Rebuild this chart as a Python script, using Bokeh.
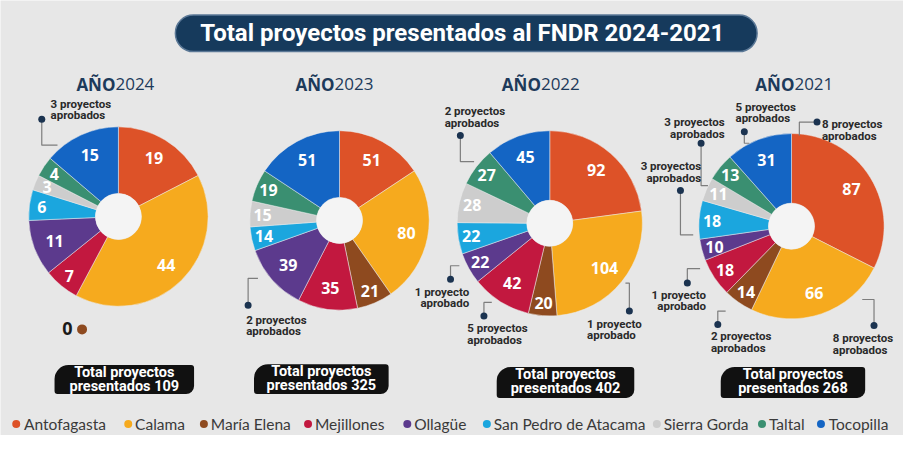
import numpy as np
from bokeh.plotting import figure
from bokeh.models import Range1d
from bokeh.embed import file_html
from bokeh.resources import INLINE
from bokeh.core.properties import value

# ------------------------------------------------------------------ data
municipios = ["Antofagasta", "Calama", "María Elena", "Mejillones", "Ollagüe",
              "San Pedro de Atacama", "Sierra Gorda", "Taltal", "Tocopilla"]
colores = ["#DD5228", "#F6AA1E", "#8E4A1F", "#C2183F", "#5C3A8D",
           "#1BA6DE", "#CDCDCD", "#3A8F71", "#1465C4"]
anios = ["2024", "2023", "2022", "2021"]
valores_2024 = [19, 44, 0, 7, 11, 6, 3, 4, 15]
valores_2023 = [51, 80, 21, 35, 39, 14, 15, 19, 51]
valores_2022 = [92, 104, 20, 42, 22, 22, 28, 27, 45]
valores_2021 = [87, 66, 14, 18, 10, 18, 11, 13, 31]
totales = [109, 325, 402, 268]
aprobados_2024 = [("Tocopilla", 3)]
aprobados_2023 = [("Ollagüe", 2)]
aprobados_2022 = [("Taltal", 2), ("Ollagüe", 1), ("Mejillones", 5), ("Calama", 1)]
aprobados_2021 = [("Tocopilla", 5), ("Antofagasta", 8), ("Sierra Gorda", 3),
                  ("San Pedro de Atacama", 3), ("Ollagüe", 1), ("María Elena", 2),
                  ("Calama", 8)]
titulo = "Total proyectos  presentados al  FNDR 2024-2021"

valores = [valores_2024, valores_2023, valores_2022, valores_2021]
aprobados = [aprobados_2024, aprobados_2023, aprobados_2022, aprobados_2021]

# ------------------------------------------------------------------ layout (reference pixels)
W, H = 903, 435
SX, SY = W / 919, H / 451
BG = "#E7E7E7"
NAVY = "#163A5C"
COND = value("Roboto")
SANS = value("Open Sans")
LEG = value("Lato")


def X(px):
    return px * SX


def Y(py):
    return H - py * SY


centros = [(120, 224), (345, 228), (559, 231), (805, 234)]
radios = [92, 92, 95, 95]
hueco = 23
split_anio = [117, 340, 550, 808]
cajas = [(55, 197, 378, 408), (258, 395, 377, 408), (505, 645, 380, 412), (733, 880, 380, 412)]
cero_pos = (68, 340)

# annotation layout: (text x, first line y, align, dot, connector path)
anot = {
    ("2024", "Tocopilla"): (51, 107, "left", (42, 123), [(42, 123), (42, 150), (58, 150)]),
    ("2023", "Ollagüe"): (250, 331, "left", (252, 316), [(252, 316), (252, 288), (262, 288)]),
    ("2022", "Taltal"): (452, 115, "left", (468, 140), [(468, 140), (468, 167), (482, 167)]),
    ("2022", "Ollagüe"): (477, 302, "right", (458, 289), [(458, 289), (458, 275), (467, 275)]),
    ("2022", "Mejillones"): (475, 340, "left", (492, 327), [(492, 327), (492, 313), (500, 313)]),
    ("2022", "Calama"): (597, 335, "left", (640, 322), [(640, 322), (640, 293), (636, 293)]),
    ("2021", "Tocopilla"): (748, 110, "left", (757, 136), [(757, 136), (757, 148), (762, 148)]),
    ("2021", "Antofagasta"): (836, 128, "left", (831, 126), [(831, 126), (813, 126), (813, 140)]),
    ("2021", "Sierra Gorda"): (737, 126, "right", (713, 148), [(713, 148), (713, 192), (720, 192)]),
    ("2021", "San Pedro de Atacama"): (713, 172, "right", (692, 197), [(692, 197), (692, 243), (705, 243)]),
    ("2021", "Ollagüe"): (718, 305, "right", (699, 293), [(699, 293), (699, 278), (712, 278)]),
    ("2021", "María Elena"): (723, 348, "left", (730, 336), [(730, 336), (730, 322), (738, 322)]),
    ("2021", "Calama"): (847, 350, "left", (889, 337), [(889, 337), (889, 310), (877, 310)]),
}

legend_dot_x = [16, 130, 207, 313, 414, 495, 668, 775, 835]
legend_txt_x = [24, 137, 214, 320, 421, 502, 675, 782, 843]
legend_y = 439

# ------------------------------------------------------------------ figure
p = figure(width=W, height=H, x_range=Range1d(0, W), y_range=Range1d(0, H),
           output_backend="svg", toolbar_location=None, min_border=0,
           x_axis_location=None, y_axis_location=None,
           background_fill_color=BG, border_fill_color=BG, outline_line_color=None)
p.grid.visible = False

# title banner
p.quad(left=[X(178)], right=[X(770)], top=[Y(15)], bottom=[Y(53)],
       fill_color=NAVY, line_color="#5B7896", line_width=1.5, border_radius=18)
p.text(x=[X(476)], y=[Y(34)], text=[titulo], text_align="center", text_baseline="middle",
       text_font=COND, text_font_style="bold", text_font_size="24px", text_color="white")

for i, anio in enumerate(anios):
    vals = np.array(valores[i], dtype=float)
    tot = vals.sum()
    cx, cy = centros[i]
    R = radios[i] * 0.975
    cum = np.concatenate([[0], np.cumsum(vals)])
    start = np.pi / 2 - 2 * np.pi * cum[1:] / tot
    end = np.pi / 2 - 2 * np.pi * cum[:-1] / tot
    mask = vals > 0
    p.annular_wedge(x=X(cx), y=Y(cy), inner_radius=hueco, outer_radius=R,
                    start_angle=start[mask], end_angle=end[mask],
                    fill_color=[c for c, m in zip(colores, mask) if m],
                    line_color="#EDEDED", line_width=0.5)
    p.circle(x=[X(cx)], y=[Y(cy)], radius=hueco, fill_color="#F4F4F4", line_color=None)

    # slice labels
    mid = (start + end) / 2
    frac = vals / tot
    rl = np.where(frac > 0.1, 0.76 * R, 0.86 * R)
    lx = X(cx) + rl * np.cos(mid)
    ly = Y(cy) + rl * np.sin(mid)
    p.text(x=lx[mask], y=ly[mask], text=[str(int(v)) for v in vals[mask]],
           text_align="center", text_baseline="middle", text_font=SANS,
           text_font_style="bold", text_font_size="16px", text_color="white")
    # zero-value slice label (outside)
    for k in np.where(~mask)[0]:
        p.text(x=[X(cero_pos[0])], y=[Y(cero_pos[1])], text=[str(int(vals[k]))],
               text_align="center", text_baseline="middle", text_font=SANS,
               text_font_style="bold", text_font_size="18px", text_color="#1a1a1a")
        p.scatter(x=[X(cero_pos[0] + 15)], y=[Y(cero_pos[1] + 1)], size=10,
                  fill_color=colores[k], line_color=None)

    # year title
    p.text(x=[X(split_anio[i])], y=[Y(87)], text=["AÑO"], text_align="right",
           text_baseline="middle", text_font=SANS, text_font_style="bold",
           text_font_size="17px", text_color="#1D3A5A")
    p.text(x=[X(split_anio[i])], y=[Y(87)], text=[anio], text_align="left",
           text_baseline="middle", text_font=SANS, text_font_style="normal",
           text_font_size="17px", text_color="#1D3A5A")

    # approved-project annotations
    for muni, n in aprobados[i]:
        tx, ty, al, dot, path = anot[(anio, muni)]
        p.line(x=[X(a) for a, b in path], y=[Y(b) for a, b in path],
               line_color="#7D7D7D", line_width=1.2)
        p.scatter(x=[X(dot[0])], y=[Y(dot[1])], size=7, fill_color="#1B3350", line_color=None)
        l1 = f"{n} proyecto" if n == 1 else f"{n} proyectos"
        l2 = "aprobado" if n == 1 else "aprobados"
        p.text(x=[X(tx), X(tx)], y=[Y(ty), Y(ty + 12)], text=[l1, l2], text_align=al,
               text_baseline="middle", text_font=COND, text_font_style="bold",
               text_font_size="11.5px", text_color="#2A2A2A")

    # total box
    l, r, t, b = cajas[i]
    p.quad(left=[X(l)], right=[X(r)], top=[Y(t)], bottom=[Y(b)], fill_color="#111111",
           line_color=None, border_radius=(14, 3, 8, 3))
    mx = (l + r) / 2
    p.text(x=[X(mx), X(mx)], y=[Y(t + 8), Y(t + 22)],
           text=["Total proyectos", f"presentados {totales[i]}"],
           text_align="center", text_baseline="middle", text_font=COND,
           text_font_style="bold", text_font_size="14.5px", text_color="white")

# legend
p.scatter(x=[X(v) for v in legend_dot_x], y=[Y(legend_y)] * len(municipios), size=8,
          fill_color=colores, line_color=None)
p.text(x=[X(v) for v in legend_txt_x], y=[Y(legend_y)] * len(municipios), text=municipios,
       text_align="left", text_baseline="middle", text_font=LEG, text_font_size="15.5px",
       text_color="#3A3A3A")

open("out.html", "w").write(file_html(p, INLINE))
